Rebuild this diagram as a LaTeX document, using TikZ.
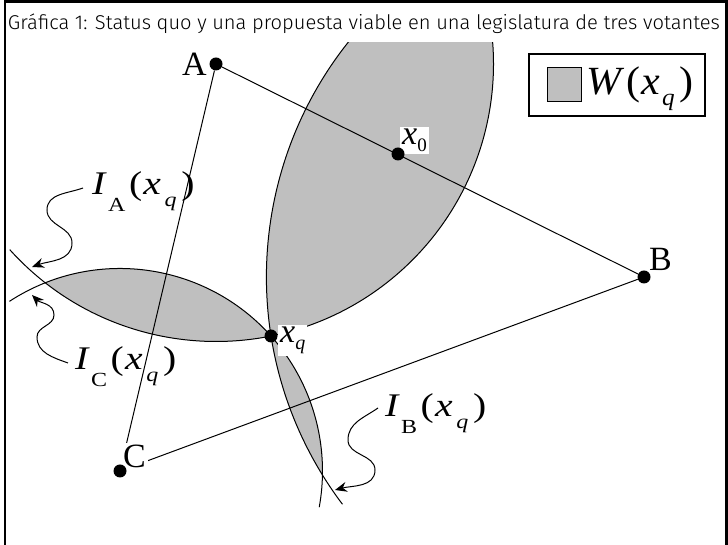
\documentclass[tikz,border=0pt]{standalone}
\usepackage{fontspec}
\setmainfont{Liberation Serif}
\newfontfamily\titlefont{Fira Sans Light}
\usepackage{graphicx}
\usetikzlibrary{arrows.meta}
\pgfdeclarelayer{bg}\pgfdeclarelayer{fg}\pgfsetlayers{bg,main,fg}
\definecolor{wgray}{RGB}{191,191,191}
\newcommand\subsz{\fontsize{20}{20}\selectfont}
\newcommand\ilbl[1]{\scalebox{1.2}[1]{\fontsize{33}{33}\selectfont\textit{I}\hspace{1pt}\raisebox{-17pt}{\subsz #1}\hspace{3pt}(\hspace{1pt}\textit{x}\hspace{3pt}\raisebox{-12pt}{\subsz\textit{q}}\hspace{4pt})}}
\tikzset{
 dot/.style={circle, fill=black, inner sep=0pt, minimum size=13pt},
 curve/.style={line width=1pt},
 tri/.style={line width=1pt},
 wavy/.style={line width=1pt, -{Stealth[length=12pt,width=10pt,inset=4pt]}},
 ptlabel/.style={font=\fontsize{34}{34}\selectfont, inner sep=0pt},
 whitelbl/.style={fill=white, inner sep=2pt},
}
\begin{document}
\begin{tikzpicture}[x=1pt,y=1pt]
\useasboundingbox (0,0) rectangle (728,545);
\coordinate (pA) at (216,481);
\coordinate (pB) at (644,268);
\coordinate (pC) at (120,74);
\coordinate (pq) at (271,209);
\coordinate (p0) at (398,391);
\def\rA{277.5pt}\def\rB{377.6pt}\def\rC{202.5pt}
% shaded win set
\begin{pgfonlayer}{bg}
\begin{scope}
\clip (0,0) rectangle (728,502);
\begin{scope}\clip (pA) circle[radius=\rA]; \fill[wgray] (pB) circle[radius=\rB];\end{scope}
\begin{scope}\clip (pB) circle[radius=\rB]; \fill[wgray] (pC) circle[radius=\rC];\end{scope}
\begin{scope}\clip (pA) circle[radius=\rA]; \fill[wgray] (pC) circle[radius=\rC];\end{scope}
\end{scope}
\end{pgfonlayer}
% indifference curves
\begin{scope}
\clip (0,0) rectangle (728,502);
\draw[curve] (pA) ++(222:\rA) arc[start angle=222, end angle=370, radius=\rA];
\draw[curve] (pB) ++(135:\rB) arc[start angle=135, end angle=217, radius=\rB];
\draw[curve] (pC) ++(123.1:\rC) arc[start angle=123.1, end angle=-10.3, radius=\rC];
\end{scope}
% dots
\begin{pgfonlayer}{fg}
\node[dot] (A) at (pA) {};
\node[dot] (B) at (pB) {};
\node[dot] (C) at (pC) {};
\node[dot] (x0) at (p0) {};
\node[dot] (xq) at (pq) {};
\end{pgfonlayer}
% triangle
\draw[tri] (A) -- (B);
\draw[tri] (B) -- (C);
\draw[tri] (A) -- (C);
% point labels
\node[ptlabel, anchor=east] (lA) at (207,481) {A};
\node[ptlabel, anchor=west] (lB) at (649,286) {B};
\node[ptlabel, whitelbl] (lC) at (134.5,88.5) {C};
\node[whitelbl, anchor=base west] (l0) at (400,400) {\fontsize{34}{34}\selectfont\textit{x}\raisebox{-7pt}{\fontsize{19}{19}\selectfont 0}};
\node[whitelbl, anchor=base west] (lq) at (278,202) {\fontsize{34}{34}\selectfont\textit{x}\raisebox{-7pt}{\fontsize{20}{20}\selectfont\textit{q}}};
% curve labels
\node[inner sep=0pt, anchor=base west] (lIA) at (92,350) {\ilbl{A}};
\node[inner sep=0pt, anchor=base west] (lIC) at (75,175) {\ilbl{C}};
\node[inner sep=0pt, anchor=base west] (lIB) at (385,128) {\ilbl{B}};
% wavy arrows
\coordinate (iaS) at (83,357); \coordinate (iaM1) at (47,335); \coordinate (iaM2) at (72,302); \coordinate (iaT) at (32,278);
\draw[wavy] (iaS) to[out=200,in=90] (iaM1) to[out=-90,in=90] (iaM2) to[out=-90,in=20] (iaT);
\coordinate (icS) at (68,182); \coordinate (icM1) at (37,208); \coordinate (icM2) at (54,230); \coordinate (icT) at (32,250);
\draw[wavy] (icS) to[out=160,in=-90] (icM1) to[out=90,in=-90] (icM2) to[out=90,in=-45] (icT);
\coordinate (ibS) at (378,137); \coordinate (ibM1) at (348,105); \coordinate (ibM2) at (375,75); \coordinate (ibT) at (335,55);
\draw[wavy] (ibS) to[out=215,in=90] (ibM1) to[out=-90,in=90] (ibM2) to[out=-90,in=15] (ibT);
% legend
\node[draw, line width=2pt, minimum width=176pt, minimum height=62pt, inner sep=0pt] (leg) at (617,460) {};
\node[draw, line width=0.8pt, fill=wgray, minimum size=34pt, inner sep=0pt] (legsq) at (564,461) {};
\node[inner sep=0pt, anchor=base west] (legtx) at (586,450) {\scalebox{1.05}[1]{\fontsize{40}{40}\selectfont\textit{W}\hspace{2pt}(\hspace{1pt}\textit{x}\hspace{2pt}\raisebox{-11pt}{\fontsize{24}{24}\selectfont\textit{q}}\hspace{4pt})}};
% title
\node[inner sep=0pt, anchor=base] (title) at (364,515) {\resizebox{712pt}{\height}{\titlefont\fontsize{20}{24}\selectfont Gráfica 1: Status quo y una propuesta viable en una legislatura de tres votantes}};
% frame
\draw[line width=2.5pt] (5,-3) -- (5,543.5) -- (726.5,543.5) -- (726.5,-3);
\end{tikzpicture}
\end{document}
